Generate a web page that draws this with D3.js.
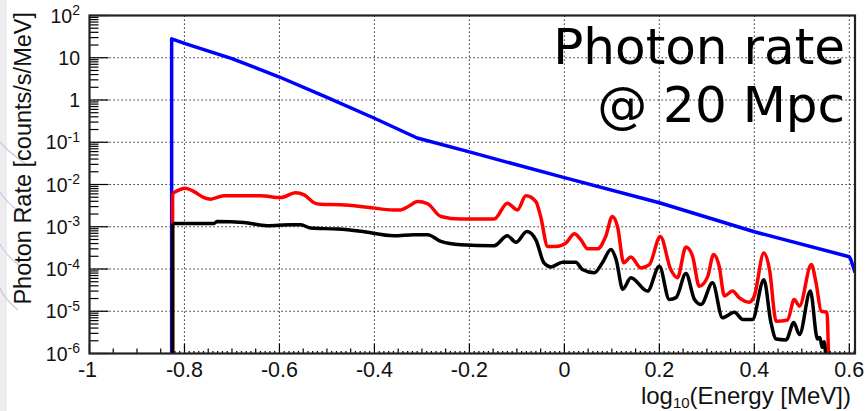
<!DOCTYPE html>
<html>
<head>
<meta charset="utf-8">
<script src="https://cdn.jsdelivr.net/npm/d3@7"></script>
<style>
  html, body { margin: 0; padding: 0; background: #fff; }
  svg { display: block; }
</style>
</head>
<body>
<div id="chart"></div>
<script>
// ---------------------------------
// Data
// x = log10(E/MeV), y = counts/s/MeV
// ---------------------------------
const xTicks = [-1, -0.8, -0.6, -0.4, -0.2, 0, 0.2, 0.4, 0.6];
const yTickExps = [-6, -5, -4, -3, -2, -1, 0, 1, 2];

const bluePts = [
  [-0.827, 1e-6], [-0.827, 28], [-0.80, 22], [-0.70, 9.5], [-0.60, 3.5], [-0.50, 1.15],
  [-0.40, 0.37], [-0.31, 0.126], [-0.20, 0.059], [0, 0.0145], [0.2, 3.7e-3],
  [0.4, 7.6e-4], [0.6, 1.95e-4], [0.603, 1.7e-4], [0.612, 8.3e-5]
];

const redPts = [
  [-0.825, 1e-6], [-0.825, 6.2e-3], [-0.798, 8.2e-3], [-0.780, 6.8e-3], [-0.759, 4.9e-3],
  [-0.745, 4.5e-3], [-0.717, 5.4e-3], [-0.640, 5.4e-3], [-0.597, 4.9e-3], [-0.566, 6.4e-3],
  [-0.548, 5.7e-3], [-0.527, 3.7e-3], [-0.513, 3.4e-3], [-0.471, 3.3e-3], [-0.415, 2.9e-3],
  [-0.359, 2.5e-3], [-0.345, 2.5e-3], [-0.327, 3.1e-3], [-0.309, 3.95e-3], [-0.288, 3.5e-3],
  [-0.260, 1.75e-3], [-0.218, 1.52e-3], [-0.148, 1.52e-3], [-0.120, 3.6e-3], [-0.099, 2.5e-3],
  [-0.081, 5.4e-3], [-0.060, 3.95e-3], [-0.050, 1.75e-3], [-0.035, 3.4e-4], [-0.018, 3.4e-4],
  [0.003, 4.1e-4], [0.021, 6.8e-4], [0.035, 4.9e-4], [0.049, 3.0e-4], [0.070, 3.0e-4],
  [0.087, 5.9e-4], [0.101, 1.75e-3], [0.112, 1.0e-3], [0.125, 1.4e-4], [0.140, 1.93e-4],
  [0.161, 1.06e-4], [0.179, 1.27e-4], [0.202, 5.9e-4], [0.224, 9.7e-5], [0.238, 6.2e-5],
  [0.256, 3.3e-4], [0.270, 2.0e-4], [0.284, 3.9e-5], [0.302, 6.7e-5], [0.314, 2.2e-4],
  [0.326, 1.16e-4], [0.337, 2.3e-5], [0.354, 3.0e-5], [0.368, 2.1e-5], [0.389, 1.64e-5],
  [0.400, 2.3e-5], [0.420, 2.4e-4], [0.432, 9.7e-5], [0.446, 5.8e-6], [0.470, 6.2e-6],
  [0.484, 1.9e-5], [0.495, 1.32e-5], [0.520, 1.27e-4], [0.530, 4.7e-5], [0.541, 1.0e-5],
  [0.553, 9.5e-6], [0.556, 1e-6]
];

const blackPts = [
  [-0.825, 1e-6], [-0.825, 1.2e-3], [-0.738, 1.2e-3], [-0.731, 1.33e-3], [-0.675, 1.26e-3],
  [-0.626, 1.06e-3], [-0.576, 1.11e-3], [-0.555, 1.11e-3], [-0.534, 9.3e-4], [-0.478, 8.8e-4],
  [-0.429, 7.8e-4], [-0.359, 6.1e-4], [-0.317, 6.5e-4], [-0.288, 6.5e-4], [-0.260, 4.5e-4],
  [-0.218, 3.76e-4], [-0.148, 3.56e-4], [-0.120, 6.1e-4], [-0.102, 4.3e-4], [-0.079, 7.7e-4],
  [-0.060, 4.9e-4], [-0.043, 1.4e-4], [-0.028, 1.12e-4], [-0.004, 1.44e-4], [0.024, 1.44e-4],
  [0.038, 9.7e-5], [0.063, 8.1e-5], [0.080, 1.4e-4], [0.098, 2.9e-4], [0.109, 1.67e-4],
  [0.123, 3.3e-5], [0.140, 6.2e-5], [0.175, 3.0e-5], [0.200, 1.16e-4], [0.221, 1.9e-5],
  [0.235, 2.1e-5], [0.256, 7.8e-5], [0.274, 1.9e-5], [0.288, 1.45e-5], [0.312, 4.7e-5],
  [0.333, 7.0e-6], [0.358, 9.5e-6], [0.376, 6.4e-6], [0.396, 6.4e-6], [0.420, 5.6e-5],
  [0.435, 5.4e-6], [0.446, 2.2e-6], [0.467, 2.1e-6], [0.483, 5.4e-6], [0.495, 2.8e-6],
  [0.518, 3.0e-5], [0.533, 2.2e-6], [0.538, 2.4e-6], [0.543, 1.4e-6], [0.547, 1.9e-6],
  [0.550, 1e-6]
];

const titleLines = ['Photon rate', '@ 20 Mpc'];

//---------------------
// Layout
//---------------------
const W = 865, H = 411;
const margin = { top: 15.5, right: 10, bottom: 57.5, left: 89.5 };
const plotW = W - margin.left - margin.right;
const plotH = H - margin.top - margin.bottom;

const x = d3.scaleLinear().domain([-1, 0.612]).range([0, plotW]);
const y = d3.scaleLog().domain([1e-6, 100]).range([plotH, 0]);

const svg = d3.select('#chart').append('svg')
  .attr('width', W)
  .attr('height', H);

// slide background strip on the left
svg.append('rect').attr('x', 0).attr('y', 0).attr('width', 7).attr('height', H).attr('fill', '#ededf0');
const deco = [[150, 14], [200, 10], [252, 8], [296, 6]];
deco.forEach(function (d) {
  svg.append('path')
    .attr('d', 'M0,' + (d[0] - 8) + ' Q' + (d[1] * 0.6) + ',' + (d[0] + 2) + ' ' + (d[1] + 12) + ',' + (d[0] + 14))
    .attr('fill', 'none').attr('stroke', '#c9c9e6').attr('stroke-width', 1.2);
});

const g = svg.append('g')
  .attr('transform', 'translate(' + margin.left + ',' + margin.top + ')');

// Grid (dotted)
const gridStyle = { stroke: '#111', 'stroke-width': 1.1, 'stroke-dasharray': '1.3,2.7' };
const grid = g.append('g').attr('class', 'grid');
xTicks.filter(function (t) { return t > -1; }).forEach(function (t) {
  const l = grid.append('line').attr('x1', x(t)).attr('x2', x(t)).attr('y1', 0).attr('y2', plotH);
  Object.keys(gridStyle).forEach(function (k) { l.attr(k, gridStyle[k]); });
});
yTickExps.filter(function (e) { return e > -6 && e < 2; }).forEach(function (e) {
  const l = grid.append('line').attr('x1', 0).attr('x2', plotW).attr('y1', y(Math.pow(10, e))).attr('y2', y(Math.pow(10, e)));
  Object.keys(gridStyle).forEach(function (k) { l.attr(k, gridStyle[k]); });
});

// Curves
const clip = g.append('clipPath').attr('id', 'plotclip');
clip.append('rect').attr('x', 0).attr('y', 0).attr('width', plotW).attr('height', plotH);

const straight = d3.line()
  .x(function (d) { return x(d[0]); })
  .y(function (d) { return y(d[1]); });
const smooth = d3.line()
  .curve(d3.curveMonotoneX)
  .x(function (d) { return x(d[0]); })
  .y(function (d) { return y(d[1]); });

const curves = g.append('g').attr('clip-path', 'url(#plotclip)')
  .attr('fill', 'none').attr('stroke-width', 3.5).attr('stroke-linejoin', 'round');

// blue: piecewise power law, straight segments
curves.append('path').datum(bluePts).attr('d', straight).attr('stroke', '#0000ff');

// red and black: rising edge, then smooth wiggles
[[redPts, '#ff0000'], [blackPts, '#000000']].forEach(function (s) {
  curves.append('path').datum(s[0].slice(0, 2)).attr('d', straight).attr('stroke', s[1]);
  curves.append('path').datum(s[0].slice(1)).attr('d', smooth).attr('stroke', s[1]);
});

// Ticks
const ticks = g.append('g').attr('stroke', '#000').attr('stroke-width', 1.2);
// x: major every 0.2, medium every 0.05, small every 0.01 (small only where histograms live)
d3.range(-1, 0.6125, 0.01).forEach(function (v) {
  v = Math.round(v * 100) / 100;
  let len = 0;
  if (Math.abs(Math.round(v / 0.2) * 0.2 - v) < 1e-6) len = 10;
  else if (Math.abs(Math.round(v / 0.05) * 0.05 - v) < 1e-6) len = 5;
  else if (v > -0.825) len = 2.5;
  if (len) ticks.append('line').attr('x1', x(v)).attr('x2', x(v)).attr('y1', plotH).attr('y2', plotH - len);
});
// y: decades + 2..9 minors
yTickExps.forEach(function (e) {
  const v = Math.pow(10, e);
  ticks.append('line').attr('x1', 0).attr('x2', 19).attr('y1', y(v)).attr('y2', y(v));
  if (e < 2) {
    d3.range(2, 10).forEach(function (m) {
      ticks.append('line').attr('x1', 0).attr('x2', 9).attr('y1', y(m * v)).attr('y2', y(m * v));
    });
  }
});

// Frame
g.append('rect')
  .attr('x', 0).attr('y', 0).attr('width', plotW).attr('height', plotH)
  .attr('fill', 'none').attr('stroke', '#222').attr('stroke-width', 2.2);

// Tick labels
const font = '"Liberation Sans", Arial, Helvetica, sans-serif';
const xl = g.append('g').attr('font-family', font).attr('font-size', 21.5).attr('fill', '#111');
xTicks.forEach(function (t) {
  xl.append('text')
    .attr('x', x(t) - (t === -1 ? 2 : 0))
    .attr('y', plotH + 23.5)
    .attr('text-anchor', 'middle')
    .text(d3.format('')(t).replace('−', '-'));
});

const yl = svg.append('g').attr('font-family', font).attr('font-size', 19.5).attr('fill', '#111');
yTickExps.forEach(function (e) {
  const ty = margin.top + y(Math.pow(10, e));
  const t = yl.append('text').attr('x', 80).attr('y', ty + 7).attr('text-anchor', 'end');
  if (e === 0) t.text('1');
  else if (e === 1) t.text('10');
  else {
    t.append('tspan').text('10');
    t.append('tspan').attr('font-size', 14).attr('dy', -7.5).text(String(e));
  }
});

// Axis titles
const xt = svg.append('text')
  .attr('font-family', font).attr('font-size', 24).attr('fill', '#111')
  .attr('x', 851).attr('y', 403.5).attr('text-anchor', 'end');
xt.append('tspan').text('log');
xt.append('tspan').attr('font-size', 15).attr('dy', 4).text('10');
xt.append('tspan').attr('dy', -4).text('(Energy [MeV])');

svg.append('text')
  .attr('font-family', font).attr('font-size', 23.5).attr('fill', '#111')
  .attr('transform', 'translate(30.5,12) rotate(-90)')
  .attr('text-anchor', 'end')
  .text('Photon Rate [counts/s/MeV]');

// Big handwritten-style label
const tl = svg.append('g')
  .attr('font-family', '"Comic Sans MS", "DejaVu Sans", sans-serif')
  .attr('font-size', 50).attr('fill', '#000');
titleLines.forEach(function (s, i) {
  tl.append('text')
    .attr('x', 845)
    .attr('y', 63.5 + i * 58.5)
    .attr('text-anchor', 'end')
    .text(s);
});
</script>
</body>
</html>
